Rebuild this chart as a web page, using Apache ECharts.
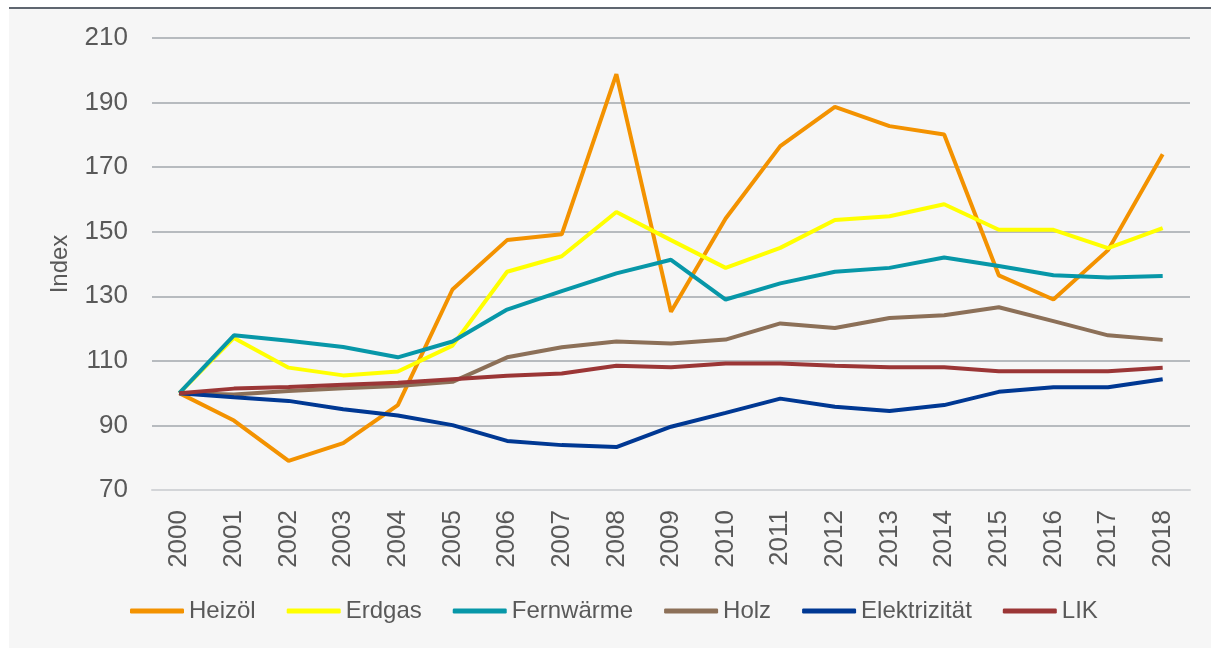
<!DOCTYPE html>
<html>
<head>
    <meta charset="utf-8">
    <title>Index</title>
    <script src="https://cdn.jsdelivr.net/npm/echarts@6/dist/echarts.min.js"></script>
    <style>
        html, body { margin: 0; padding: 0; background: #ffffff; }
        #panel {
            position: absolute; left: 9px; top: 7px;
            width: 1202px; height: 639px;
            border-top: 2px solid #5f6670;
            background: #f6f6f6;
        }
        #chart { width: 1202px; height: 639px; }
    </style>
</head>
<body>
<div id="panel"><div id="chart"></div></div>
<script type="text/javascript">
    const years = ['2000', '2001', '2002', '2003', '2004', '2005', '2006', '2007', '2008', '2009',
        '2010', '2011', '2012', '2013', '2014', '2015', '2016', '2017', '2018'];

    const heizoel = [100, 91.5, 79.0, 84.5, 96.3, 132.1, 147.4, 149.2, 198.8, 125.2,
        154.1, 176.5, 188.7, 182.7, 180.1, 136.5, 129.0, 144.3, 174.0];
    const erdgas = [100, 117.1, 107.9, 105.5, 106.7, 114.7, 137.6, 142.4, 156.1, 147.4,
        138.8, 145.0, 153.6, 154.8, 158.5, 150.6, 150.6, 144.9, 151.1];
    const fernwaerme = [100, 117.9, 116.2, 114.3, 111.1, 116.0, 125.9, 131.6, 137.1, 141.3,
        129.0, 134.0, 137.6, 138.8, 142.0, 139.4, 136.5, 135.8, 136.3];
    const holz = [100, 99.6, 100.7, 101.5, 102.2, 103.5, 111.1, 114.2, 116.0, 115.4,
        116.6, 121.6, 120.2, 123.3, 124.1, 126.6, 122.3, 117.9, 116.5];
    const elektrizitaet = [100, 98.7, 97.6, 95.0, 93.1, 90.1, 85.2, 83.9, 83.3, 89.6,
        93.9, 98.3, 95.8, 94.5, 96.3, 100.4, 101.8, 101.8, 104.3];
    const lik = [100, 101.4, 101.9, 102.6, 103.2, 104.3, 105.4, 106.1, 108.5, 108.0,
        109.2, 109.2, 108.5, 108.0, 108.0, 106.8, 106.8, 106.8, 107.9];

    const textColor = '#595959';
    const font = 'Liberation Sans, Arial, sans-serif';

    const chart = echarts.init(document.getElementById('chart'));

    function line(name, data, color) {
        return {
            name: name,
            type: 'line',
            data: data,
            symbol: 'none',
            smooth: false,
            lineStyle: { color: color, width: 4 },
            itemStyle: { color: color },
            emphasis: { disabled: true }
        };
    }

    const option = {
        animation: false,
        backgroundColor: '#f6f6f6',
        grid: {
            left: 143,
            right: 21,
            top: 29,
            bottom: 158,
            containLabel: false
        },
        legend: {
            left: 121,
            top: 590,
            padding: 0,
            icon: 'roundRect',
            itemWidth: 54,
            itemHeight: 5,
            itemGap: 31,
            textStyle: { color: textColor, fontSize: 24, fontFamily: font },
            data: ['Heizöl', 'Erdgas', 'Fernwärme', 'Holz', 'Elektrizität', 'LIK']
        },
        xAxis: {
            type: 'category',
            data: years,
            boundaryGap: true,
            axisLine: { lineStyle: { color: '#d3d5d8', width: 2 } },
            axisTick: { show: false },
            axisLabel: {
                interval: 0,
                rotate: 90,
                margin: 20,
                color: textColor,
                fontSize: 26,
                fontFamily: font
            }
        },
        yAxis: {
            type: 'value',
            min: 70,
            max: 210,
            interval: 20,
            name: 'Index',
            nameLocation: 'middle',
            nameGap: 80,
            nameTextStyle: { color: textColor, fontSize: 24, fontFamily: font },
            axisLine: { show: false },
            axisTick: { show: false },
            axisLabel: {
                margin: 24,
                color: textColor,
                fontSize: 26,
                fontFamily: font
            },
            splitLine: { lineStyle: { color: '#b7bbbf', width: 2 } }
        },
        series: [
            line('Heizöl', heizoel, '#f39200'),
            line('Erdgas', erdgas, '#ffff00'),
            line('Fernwärme', fernwaerme, '#0797a8'),
            line('Holz', holz, '#8c7058'),
            line('Elektrizität', elektrizitaet, '#003893'),
            line('LIK', lik, '#9b3636')
        ]
    };
    chart.setOption(option);
</script>
</body>
</html>
